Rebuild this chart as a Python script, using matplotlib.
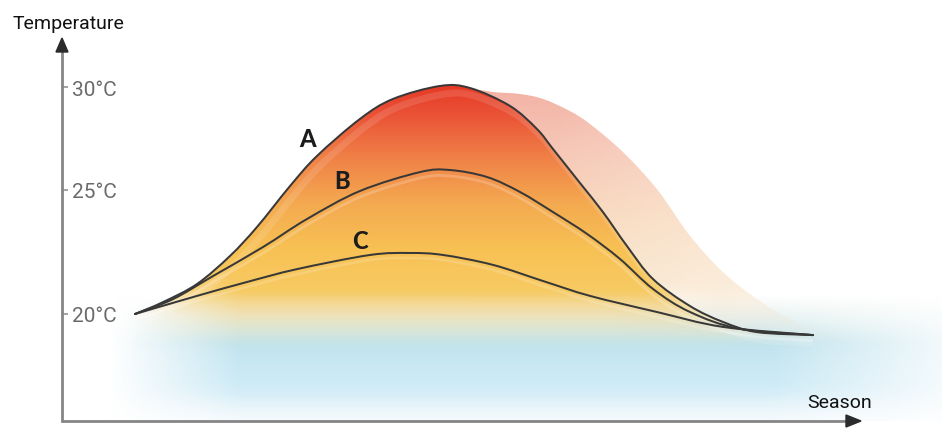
import numpy as np
import matplotlib
matplotlib.use("Agg")
import matplotlib.pyplot as plt
from matplotlib.patches import Polygon, PathPatch
from matplotlib.path import Path
from matplotlib.lines import Line2D
from matplotlib.transforms import offset_copy

# ---------------- data (season units, temperature in °C) ----------------
season_a = [9.15, 12.66, 16.92, 21.05, 24.44, 28.57, 31.95, 37.34, 41.48, 47.37, 51.13,
            56.14, 59.52, 61.53, 64.91, 67.79, 70.80, 74.06, 78.70, 82.83, 87.09, 94.11]
temp_a = [20.00, 20.48, 21.21, 22.34, 23.51, 25.19, 26.65, 28.45, 29.42, 30.05, 29.95,
          29.08, 27.96, 26.99, 25.34, 24.11, 22.74, 21.41, 20.32, 19.68, 19.27, 19.15]

season_b = [9.15, 13.91, 18.92, 25.19, 30.70, 37.34, 44.86, 48.62, 53.26, 57.39,
            61.53, 65.79, 69.92, 74.06, 78.70, 84.96, 94.11]
temp_b = [20.00, 20.60, 21.53, 22.70, 23.83, 24.96, 25.87, 25.97, 25.63, 24.92,
          24.11, 23.23, 22.22, 21.01, 20.08, 19.40, 19.15]

season_c = [9.15, 16.92, 23.18, 29.45, 38.60, 43.61, 47.74, 54.01, 60.28, 66.17,
            74.56, 82.83, 94.11]
temp_c = [20.00, 20.73, 21.29, 21.81, 22.38, 22.46, 22.38, 21.98, 21.33, 20.73,
          20.08, 19.48, 19.15]

# faded "shifted" copy of curve A
season_ghost = [51.13, 54.01, 57.39, 60.28, 63.66, 66.17, 70.30, 74.56, 78.70,
                82.83, 87.09, 91.23, 95.36, 97.49]
temp_ghost = [29.95, 29.76, 29.66, 29.42, 28.83, 28.20, 26.84, 25.04, 23.15,
              21.69, 20.60, 19.80, 19.27, 19.11]

series_labels = ["A", "B", "C"]
y_ticks = [20, 25, 30]
y_tick_labels = ["20°C", "25°C", "30°C"]
x_label = "Season"
y_label = "Temperature"

# ---------------- figure / axes geometry ----------------
W, H = 942, 431
X0, Y0 = 62, 422          # axis origin in pixels (from top-left)
PX_PER_UNIT = 7.98

fig = plt.figure(figsize=(W / 100, H / 100), dpi=100)
fig.patch.set_facecolor("white")
ax = fig.add_axes([X0 / W, (H - Y0) / H, 1 - X0 / W, Y0 / H])
ax.set_facecolor("none")


def py_of_temp(t):
    t = np.asarray(t, float)
    return np.where(t >= 25, 191 - (t - 25) * 20.6, 315 - (t - 20) * 24.8)


def temp_of_py(p):
    p = np.asarray(p, float)
    return np.where(p <= 191, 25 + (191 - p) / 20.6, 20 + (315 - p) / 24.8)


def fwd(t):
    return Y0 - py_of_temp(t)


def inv(h):
    return temp_of_py(Y0 - np.asarray(h, float))


ax.set_yscale("function", functions=(fwd, inv))

t_bottom = float(inv(0))
t_top = float(inv(Y0))
x_right = (W - X0) / PX_PER_UNIT


def smooth_verts(xs, ts):
    """Catmull-Rom through the read points, as cubic Bezier segments (in scale space)."""
    pts = np.column_stack([np.asarray(xs, float) * PX_PER_UNIT, fwd(ts)])
    n = len(pts)
    verts = [pts[0]]
    codes = [Path.MOVETO]
    for i in range(n - 1):
        p0 = pts[i - 1] if i > 0 else pts[i]
        p1, p2 = pts[i], pts[i + 1]
        p3 = pts[i + 2] if i + 2 < n else pts[i + 1]
        verts += [p1 + (p2 - p0) / 6.0, p2 - (p3 - p1) / 6.0, p2]
        codes += [Path.CURVE4] * 3
    v = np.array(verts)
    v[:, 0] = v[:, 0] / PX_PER_UNIT
    v[:, 1] = inv(v[:, 1])
    return v, codes


def curve_path(xs, ts):
    v, c = smooth_verts(xs, ts)
    return Path(v, c)


def area_path(xs, ts):
    v, c = smooth_verts(xs, ts)
    v = np.vstack([v, [[xs[-1], t_bottom], [xs[0], t_bottom], [xs[0], t_bottom]]])
    c = list(c) + [Path.LINETO, Path.LINETO, Path.CLOSEPOLY]
    return Path(v, c)


# ---------------- gradient images ----------------
px = np.arange(W - X0) + X0 + 0.5
py = np.arange(Y0) + 0.5
PX, PY = np.meshgrid(px, py)


def ramp(v, stops, cols):
    cols = np.asarray(cols, float) / 255.0
    return np.stack([np.interp(v, stops, cols[:, k]) for k in range(3)], axis=-1)


# blue band background
blue = ramp(PY, [300, 345, 385, 422],
            [(212, 230, 222), (194, 228, 239), (206, 235, 246), (238, 247, 252)])
a_blue = np.interp(PY, [296, 342, 395, 422], [0, 1, 1, 0.55]) * \
    np.interp(PX, [110, 240, 770, 942], [0, 1, 1, 0.22])
img_blue = np.dstack([blue, a_blue])

# ghost (shifted copy) fill
gcol = ramp(PY, [90, 150, 220, 290, 340],
            [(236, 132, 112), (241, 165, 138), (245, 196, 152), (246, 216, 176), (246, 232, 212)])
a_g = 0.62 * np.interp(PX, [560, 880], [1, 0.5]) * np.interp(PY, [292, 345], [1, 0])
a_g *= 1 - (1 - np.interp(PX, [620, 720], [0, 1])) * np.interp(PY, [284, 306], [0, 1])
img_ghost = np.dstack([gcol, a_g])

# main warm fill
wcol = ramp(PY, [85, 115, 160, 205, 250, 290, 315, 345],
            [(229, 56, 36), (234, 82, 54), (240, 130, 72), (244, 170, 80), (247, 193, 84),
             (247, 202, 98), (241, 214, 145), (218, 226, 198)])
a_w = np.interp(PY, [294, 352], [1, 0])
hx = np.interp(PX, [130, 240, 720, 840], [0, 1, 1, 0])
a_w *= 1 - (1 - hx) * np.interp(PY, [270, 318], [0, 1])
img_warm = np.dstack([wcol, a_w])

kw = dict(extent=[0, 1, 0, 1], transform=ax.transAxes, aspect="auto",
          origin="upper", interpolation="bilinear")
ax.imshow(img_blue, zorder=1, **kw)

ghost_clip = PathPatch(area_path(season_ghost, temp_ghost), transform=ax.transData)
im_g = ax.imshow(img_ghost, zorder=2, **kw)
im_g.set_clip_path(ghost_clip)

a_clip = PathPatch(area_path(season_a, temp_a), transform=ax.transData)
im_w = ax.imshow(img_warm, zorder=3, **kw)
im_w.set_clip_path(a_clip)

# soft highlights inside the fill
for xs, ts, dx, dy, al, lw in [(season_a, temp_a, 5, -8, 0.12, 5.0),
                                (season_b, temp_b, 0, -6, 0.2, 2.0),
                                (season_c, temp_c, 0, -5, 0.16, 2.0)]:
    hp = PathPatch(curve_path(xs, ts), fill=False, edgecolor="white", alpha=al, lw=lw,
                   zorder=4, transform=offset_copy(ax.transData, fig, x=dx, y=dy, units="dots"))
    ax.add_patch(hp)
    hp.set_clip_path(a_clip)

# curves
for xs, ts in [(season_a, temp_a), (season_b, temp_b), (season_c, temp_c)]:
    ax.add_patch(PathPatch(curve_path(xs, ts), fill=False, edgecolor="#383838", lw=1.45,
                           zorder=6, capstyle="round", joinstyle="round",
                           transform=ax.transData))

# curve labels
label_pos = [(30.83, 27.48), (35.09, 25.44), (37.34, 22.98)]
for lab, (lx, ly) in zip(series_labels, label_pos):
    ax.text(lx, ly, lab, ha="center", va="center", fontsize=17, fontweight="black",
            family=["Lato", "DejaVu Sans"], color="#1c1c1c", zorder=7)

ax.set_xlim(0, x_right)
ax.set_ylim(t_bottom, t_top)

# ticks
for s in ax.spines.values():
    s.set_visible(False)
ax.set_xticks([])
ax.set_yticks(y_ticks)
ax.set_yticklabels(y_tick_labels)
ax.tick_params(axis="y", direction="in", length=4.3, width=1.1, color="#8a8a8a",
               pad=-7, labelsize=15, labelcolor="#6a6a6a")
for lbl in ax.get_yticklabels():
    lbl.set_horizontalalignment("left")
    lbl.set_family(["Roboto", "DejaVu Sans"])
ax.yaxis.set_minor_locator(matplotlib.ticker.NullLocator())


# axes lines + arrow heads (figure pixel coords)
def fx(x):
    return x / W


def fy(y):
    return (H - y) / H


fig.add_artist(Line2D([fx(X0), fx(X0)], [fy(Y0 + 1), fy(52)], color="#858585", lw=2.0,
                      solid_capstyle="butt", zorder=8))
fig.add_artist(Line2D([fx(X0 - 1), fx(848)], [fy(Y0), fy(Y0)], color="#858585", lw=2.0,
                      solid_capstyle="butt", zorder=8))
fig.add_artist(Polygon([[fx(X0), fy(39)], [fx(X0 - 6), fy(53)], [fx(X0 + 6), fy(53)]],
                       closed=True, color="#2b2b2b", transform=fig.transFigure, zorder=9))
fig.add_artist(Polygon([[fx(861), fy(Y0)], [fx(846), fy(Y0 - 6)], [fx(846), fy(Y0 + 6)]],
                       closed=True, color="#2b2b2b", transform=fig.transFigure, zorder=9))

narrow = ["Roboto", "DejaVu Sans"]
fig.text(fx(13), fy(29), y_label, ha="left", va="baseline", fontsize=14,
         family=narrow, color="#111111")
fig.text(fx(840), fy(408), x_label, ha="center", va="baseline", fontsize=14,
         family=narrow, color="#111111")

fig.savefig("out.png", dpi=100, facecolor="white")
